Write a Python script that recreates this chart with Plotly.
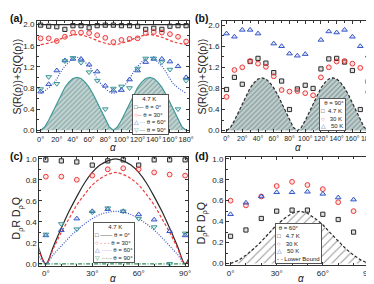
import plotly.graph_objects as go

# ---------------- data ----------------
alpha_a = [0, 10, 20, 30, 40, 50, 60, 70, 80, 90, 100, 110, 120, 130, 140, 150, 160, 170, 180]
a_theta0 = [1.99, 1.97, 1.96, 1.91, 1.98, 1.98, 1.94, 1.98, 1.99, 1.99, 1.98, 1.98, 1.97, 1.91, 1.93, 1.91, 1.97, 1.98, 1.98]
a_theta30 = [1.74, 1.74, 1.69, 1.77, 1.85, 1.85, 1.84, 1.80, 1.75, 1.67, 1.71, 1.73, 1.74, 1.84, 1.86, 1.85, 1.82, 1.77, 1.68]
a_theta60 = [0.73, 0.87, 1.13, 1.32, 1.35, 1.35, 1.24, 1.11, 0.84, 0.75, 0.76, 0.96, 1.13, 1.29, 1.35, 1.35, 1.30, 1.21, 1.00]
a_theta90 = [0.78, 1.01, 0.88, 1.31, 1.37, 1.28, 1.10, 0.94, 0.40, 0.79, 0.83, 0.80, 1.17, 1.36, 1.36, 1.29, 1.15, 0.40, 0.94]

alpha_curve_a = [0, 15, 30, 45, 60, 75, 90, 105, 120, 135, 150, 165, 180]
a_line0 = [2.0, 2.0, 2.0, 2.0, 2.0, 2.0, 2.0, 2.0, 2.0, 2.0, 2.0, 2.0, 2.0]
a_line30 = [1.62, 1.67, 1.76, 1.81, 1.76, 1.67, 1.62, 1.67, 1.76, 1.81, 1.76, 1.67, 1.62]
a_line60 = [0.70, 0.87, 1.21, 1.38, 1.21, 0.87, 0.70, 0.87, 1.21, 1.38, 1.21, 0.87, 0.70]

alpha_bound = [0, 5, 10, 15, 20, 25, 30, 35, 40, 45, 50, 55, 60, 65, 70, 75, 80, 85, 90,
               95, 100, 105, 110, 115, 120, 125, 130, 135, 140, 145, 150, 155, 160, 165, 170, 175, 180]
bound_ab = [0.0, 0.06, 0.19, 0.35, 0.52, 0.68, 0.81, 0.91, 0.98, 1.0, 0.98, 0.91, 0.81, 0.68, 0.52, 0.35, 0.19, 0.06, 0.0,
            0.06, 0.19, 0.35, 0.52, 0.68, 0.81, 0.91, 0.98, 1.0, 0.98, 0.91, 0.81, 0.68, 0.52, 0.35, 0.19, 0.06, 0.0]

b_4p7K = [0.78, 1.01, 0.88, 1.31, 1.37, 1.28, 1.10, 0.94, 0.40, 0.79, 0.86, 0.80, 1.17, 1.36, 1.37, 1.30, 1.14, 0.40, 0.93]
b_30K = [0.64, 1.15, 1.20, 1.32, 1.27, 1.21, 1.03, 0.77, 0.74, 0.75, 0.71, 0.67, 1.01, 1.20, 1.31, 1.32, 1.27, 1.19, 0.73]
b_50K = [1.84, 1.78, 1.91, 1.91, 1.84, None, 1.65, 1.60, 1.46, 1.42, 1.45, None, 1.72, 1.88, 1.86, 1.91, 1.78, 1.60, 1.42]

alpha_c = [0, 10, 20, 30, 40, 50, 60, 70, 80, 90]
c_theta0 = [0.99, 0.98, 0.97, 0.94, 0.98, 0.99, 0.94, 0.99, 0.99, 0.99]
c_theta30 = [0.83, 0.83, 0.80, 0.84, 0.90, 0.91, 0.90, 0.87, 0.85, 0.84]
c_theta60 = [0.27, 0.32, 0.43, 0.50, 0.52, 0.50, 0.47, 0.42, 0.31, 0.27]
c_theta90 = [0.28, 0.38, 0.33, 0.49, 0.53, 0.50, 0.43, 0.35, 0.0, 0.29]

alpha_curve_c = [-5, 0, 5, 10, 15, 20, 25, 30, 35, 40, 45, 50, 55, 60, 65, 70, 75, 80, 85, 90, 95]
c_line0 = [0.17, 0.0, 0.17, 0.34, 0.50, 0.64, 0.77, 0.87, 0.94, 0.98, 1.0, 0.98, 0.94, 0.87, 0.77, 0.64, 0.50, 0.34, 0.17, 0.0, 0.17]
c_line30 = [0.15, 0.0, 0.15, 0.30, 0.43, 0.56, 0.66, 0.75, 0.81, 0.85, 0.87, 0.85, 0.81, 0.75, 0.66, 0.56, 0.43, 0.30, 0.15, 0.0, 0.15]
c_line60 = [0.09, 0.0, 0.09, 0.17, 0.25, 0.32, 0.38, 0.43, 0.47, 0.49, 0.50, 0.49, 0.47, 0.43, 0.38, 0.32, 0.25, 0.17, 0.09, 0.0, 0.09]
c_line90 = [0.0] * 21

d_4p7K = [0.26, 0.32, 0.43, 0.50, 0.51, 0.51, 0.47, 0.42, 0.30, 0.26]
d_30K = [0.60, 0.555, 0.64, 0.74, 0.78, 0.75, 0.71, 0.585, 0.50, 0.60]
d_50K = [0.47, 0.58, 0.64, 0.68, 0.68, 0.685, 0.665, 0.63, 0.61, 0.49]

alpha_bound_d = [0, 5, 10, 15, 20, 25, 30, 35, 40, 45, 50, 55, 60, 65, 70, 75, 80, 85, 90]
bound_d = [0.0, 0.03, 0.08, 0.14, 0.21, 0.29, 0.37, 0.43, 0.48, 0.50, 0.48, 0.43, 0.37, 0.29, 0.21, 0.14, 0.08, 0.03, 0.0]

# ---------------- style ----------------
BLACK = "#2a2a2a"
RED = "#ee3b3b"
BLUE = "#3656c8"
TEAL = "#3f9898"
GREEN = "#2e8b57"
FONT = "Liberation Sans, Arial, sans-serif"
W, H = 374, 284


def px_dom(a, b, total):
    return [a / total, b / total]


def ydom(top, bottom):
    return [1 - bottom / H, 1 - top / H]


fig = go.Figure()


def mk(x, y, xa, ya, symbol, color, fill, size=4.2):
    fig.add_trace(go.Scatter(
        x=x, y=y, xaxis=xa, yaxis=ya, mode="markers", showlegend=False,
        marker=dict(symbol=symbol, size=size, color=fill, line=dict(color=color, width=1))))


def ln(x, y, xa, ya, color, dash, width=1.2, shape="spline"):
    fig.add_trace(go.Scatter(
        x=x, y=y, xaxis=xa, yaxis=ya, mode="lines", showlegend=False,
        line=dict(color=color, dash=dash, width=width, shape=shape)))


DASH = "3px,2px"
DOT = "1px,1.5px"
DASHDOT = "4px,1.5px,1px,1.5px"

# (a)
fig.add_trace(go.Scatter(x=alpha_bound, y=bound_ab, xaxis="x", yaxis="y", mode="lines", showlegend=False,
                         fill="tozeroy", line=dict(color=TEAL, width=1.2),
                         fillpattern=dict(shape="/", fgcolor="#3a6464", bgcolor="#c3d6d4", size=3.5, solidity=0.3)))
ln(alpha_curve_a, a_line0, "x", "y", BLACK, "solid")
ln(alpha_curve_a, a_line30, "x", "y", RED, DASH)
ln(alpha_curve_a, a_line60, "x", "y", BLUE, DOT)
mk(alpha_a, a_theta0, "x", "y", "square", BLACK, "rgba(0,0,0,0.12)")
mk(alpha_a, a_theta30, "x", "y", "circle", RED, "rgba(238,59,59,0.15)", 4.8)
mk(alpha_a, a_theta60, "x", "y", "triangle-up", BLUE, "rgba(54,86,200,0.15)", 5)
mk(alpha_a, a_theta90, "x", "y", "triangle-down", TEAL, "rgba(63,152,152,0.15)", 5)

# (b)
fig.add_trace(go.Scatter(x=alpha_bound, y=bound_ab, xaxis="x2", yaxis="y2", mode="lines", showlegend=False,
                         fill="tozeroy", line=dict(color=BLACK, width=1.2, dash=DASH),
                         fillpattern=dict(shape="/", fgcolor="#334f4f", bgcolor="#c2d0d0", size=3.5, solidity=0.32)))
mk(alpha_a, b_4p7K, "x2", "y2", "square", BLACK, "rgba(0,0,0,0.12)")
mk(alpha_a, b_30K, "x2", "y2", "circle", RED, "rgba(238,59,59,0.15)", 4.8)
mk(alpha_a, b_50K, "x2", "y2", "triangle-up", BLUE, "rgba(54,86,200,0.15)", 5)

# (c)
ln(alpha_curve_c, c_line0, "x3", "y3", BLACK, "solid")
ln(alpha_curve_c, c_line30, "x3", "y3", RED, DASH)
ln(alpha_curve_c, c_line60, "x3", "y3", BLUE, DOT)
ln(alpha_curve_c, c_line90, "x3", "y3", GREEN, DASHDOT)
mk(alpha_c, c_theta0, "x3", "y3", "square", BLACK, "rgba(0,0,0,0.12)")
mk(alpha_c, c_theta30, "x3", "y3", "circle", RED, "rgba(238,59,59,0.15)", 4.8)
mk(alpha_c, c_theta60, "x3", "y3", "triangle-up", BLUE, "rgba(54,86,200,0.15)", 5)
mk(alpha_c, c_theta90, "x3", "y3", "triangle-down", TEAL, "rgba(63,152,152,0.15)", 5)

# (d)
fig.add_trace(go.Scatter(x=alpha_bound_d, y=bound_d, xaxis="x4", yaxis="y4", mode="lines", showlegend=False,
                         fill="tozeroy", line=dict(color=BLACK, width=1.2, dash=DASH),
                         fillpattern=dict(shape="/", fgcolor="#333333", bgcolor="white", size=6, solidity=0.18)))
mk(alpha_c, d_4p7K, "x4", "y4", "square", BLACK, "rgba(0,0,0,0.12)")
mk(alpha_c, d_30K, "x4", "y4", "circle", RED, "rgba(238,59,59,0.15)", 4.8)
mk(alpha_c, d_50K, "x4", "y4", "triangle-up", BLUE, "rgba(54,86,200,0.15)", 5)

tickfont = dict(family=FONT, size=8, color="#222")


def xax(dom, rng, dtick, minor, anchor, fs=8):
    return dict(domain=dom, range=rng, anchor=anchor, dtick=dtick, tick0=0, ticksuffix="°", tickangle=0,
                ticklabeloverflow="allow",
                showgrid=False, zeroline=False, showline=True, linecolor="#333", linewidth=1,
                mirror="allticks", ticks="inside", ticklen=3, tickcolor="#333",
                minor=dict(dtick=minor, ticks="inside", ticklen=2, tickcolor="#333"),
                tickfont=dict(family=FONT, size=fs, color="#222"))


def yax(dom, rng, dtick, minor, anchor):
    return dict(domain=dom, range=rng, anchor=anchor, dtick=dtick, tick0=0, tickformat=".1f",
                showgrid=False, zeroline=False, showline=True, linecolor="#333", linewidth=1,
                mirror="allticks", ticks="inside", ticklen=3, tickcolor="#333",
                minor=dict(dtick=minor, ticks="inside", ticklen=2, tickcolor="#333"),
                tickfont=tickfont)


fig.update_layout(
    width=W, height=H, margin=dict(l=0, r=0, t=0, b=0),
    paper_bgcolor="white", plot_bgcolor="white", font=dict(family=FONT),
    xaxis=xax(px_dom(29.3, 183.3, W), [-4.5, 184], 20, 10, "y", 7.4),
    yaxis=yax(ydom(11.7, 124.7), [-0.035, 2.06], 0.4, 0.2, "x"),
    xaxis2=xax(px_dom(216.3, 367.3, W), [-5.8, 184.1], 20, 10, "y2", 7.0),
    yaxis2=yax(ydom(11.7, 124.3), [-0.02, 2.07], 0.4, 0.2, "x2"),
    xaxis3=xax(px_dom(31.7, 182, W), [-4.2, 91.9], 30, 10, "y3"),
    yaxis3=yax(ydom(150.3, 261.3), [-0.019, 1.016], 0.2, 0.1, "x3"),
    xaxis4=xax(px_dom(220.3, 367.8, W), [-3.0, 91.9], 30, 10, "y4"),
    yaxis4=yax(ydom(150.3, 261.0), [-0.019, 1.016], 0.2, 0.1, "x4"),
)

SQ = "S(R(ρ))+S(Q(ρ))"
DD = "D<sub>ρ</sub>R D<sub>ρ</sub>Q"

# axis titles
for txt, x, y, fs in [(SQ, 9, 68, 10.5), (SQ, 196, 68, 10.5), (DD, 9, 213, 10.5), (DD, 196, 218, 10.5)]:
    fig.add_annotation(text=txt, xref="paper", yref="paper", x=x / W, y=1 - y / H, textangle=-90,
                       xanchor="center", yanchor="middle", showarrow=False, borderpad=0,
                       font=dict(family=FONT, size=fs, color="#222"))
for x, ytop in [(106, 134), (293, 134), (106, 268), (296, 268)]:
    fig.add_annotation(text="<i>α</i>", xref="paper", yref="paper", x=x / W, y=1 - ytop / H,
                       xanchor="center", yanchor="top", showarrow=False, borderpad=0,
                       font=dict(family=FONT, size=10, color="#222"))

# panel labels
for lab, x, y in [("(a)", 1, 1), ("(b)", 188, 1), ("(c)", 1, 142), ("(d)", 188, 142)]:
    fig.add_annotation(text="<b>%s</b>" % lab, xref="paper", yref="paper", x=x / W, y=1 - y / H,
                       xanchor="left", yanchor="top", showarrow=False, borderpad=0,
                       font=dict(family=FONT, size=10.5, color="#111"))


def sp(color, s):
    return "<span style='color:%s'>%s</span>" % (color, s)


LF = dict(family=FONT, size=6, color="#222")


def legend_box(text, x, y):
    fig.add_annotation(text=text, xref="paper", yref="paper", x=x / W, y=1 - y / H,
                       xanchor="left", yanchor="top", showarrow=False, align="left",
                       bgcolor="white", bordercolor="#555", borderwidth=1, borderpad=1, font=LF)


legend_box("&nbsp;&nbsp;&nbsp;&nbsp;&nbsp;4.7 K<br>"
           + sp(BLACK, "□—") + " θ = 0°<br>"
           + sp(RED, "○--") + " θ = 30°<br>"
           + sp(BLUE, "△···") + " θ = 60°<br>"
           + sp(TEAL, "▽—") + " θ = 90°", 125, 86)
legend_box("&nbsp;&nbsp;θ = 90°<br>"
           + sp(BLACK, "□") + "&nbsp;&nbsp;4.7 K<br>"
           + sp(RED, "○") + "&nbsp;&nbsp;&nbsp;30 K<br>"
           + sp(BLUE, "△") + "&nbsp;&nbsp;&nbsp;50 K", 314, 90)
legend_box("&nbsp;&nbsp;&nbsp;&nbsp;&nbsp;&nbsp;&nbsp;&nbsp;4.7 K<br>"
           + sp(BLACK, "□ ——") + " θ = 0°<br>"
           + sp(RED, "○ - - -") + " θ = 30°<br>"
           + sp(BLUE, "△ ·····") + " θ = 60°<br>"
           + sp(GREEN, "▽ -·-·-") + " θ = 90°", 86, 217)
legend_box("&nbsp;θ = 60°<br>"
           + sp(BLACK, "□") + "&nbsp;&nbsp;&nbsp;4.7 K<br>"
           + sp(RED, "○") + "&nbsp;&nbsp;&nbsp;30 K<br>"
           + sp(BLUE, "△") + "&nbsp;&nbsp;&nbsp;50 K<br>"
           + "- - Lower Bound", 270, 218)

fig.write_html("out.html")
